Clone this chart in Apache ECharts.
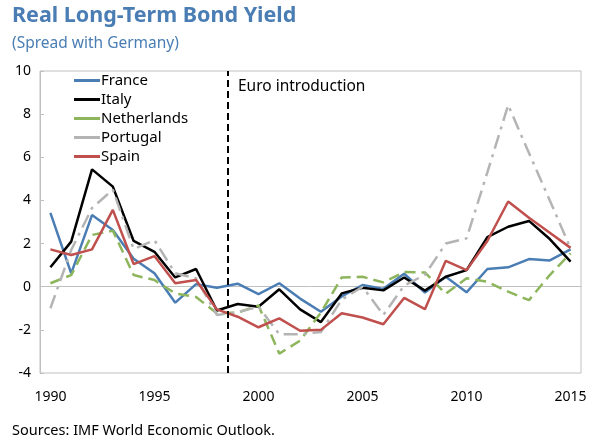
<!DOCTYPE html>
<html>
<head>
<meta charset="utf-8">
<title>Real Long-Term Bond Yield</title>
<script src="https://cdn.jsdelivr.net/npm/echarts@6/dist/echarts.min.js"></script>
<style>
  html, body { margin: 0; padding: 0; background: #fff; }
  #main { width: 594px; height: 441px; }
</style>
</head>
<body>
<div id="main"></div>
<script type="text/javascript">
    // data, spread with Germany in percentage points
    var years = ['1990','1991','1992','1993','1994','1995','1996','1997','1998','1999',
                 '2000','2001','2002','2003','2004','2005','2006','2007','2008','2009',
                 '2010','2011','2012','2013','2014','2015'];
    var france = [3.42, 0.62, 3.32, 2.63, 1.30, 0.62, -0.74, 0.12, -0.05, 0.14,
                  -0.34, 0.16, -0.55, -1.16, -0.45, 0.08, -0.10, 0.60, -0.27, 0.46,
                  -0.26, 0.82, 0.90, 1.28, 1.22, 1.73];
    var italy = [0.90, 2.09, 5.44, 4.64, 2.12, 1.62, 0.43, 0.82, -1.10, -0.80,
                 -0.93, -0.12, -1.05, -1.64, -0.31, -0.05, -0.17, 0.43, -0.18, 0.46,
                 0.77, 2.30, 2.78, 3.05, 2.21, 1.16];
    var netherlands = [0.16, 0.54, 2.40, 2.60, 0.54, 0.31, -0.31, -0.48, -1.23, -1.20,
                       -0.87, -3.10, -2.50, -1.20, 0.43, 0.46, 0.20, 0.68, 0.66, -0.33,
                       0.39, 0.23, -0.23, -0.62, 0.54, 1.55];
    var portugal = [-1.00, 1.70, 3.65, 4.50, 1.75, 2.16, 0.62, 0.39, -1.31, -1.18,
                    -0.93, -2.20, -2.20, -2.10, -0.60, 0.00, -1.31, 0.05, 0.55, 2.00,
                    2.24, 5.30, 8.42, 6.20, 4.00, 1.78];
    var spain = [1.73, 1.47, 1.73, 3.56, 1.05, 1.42, 0.16, 0.31, -1.05, -1.39,
                 -1.88, -1.47, -2.04, -2.00, -1.23, -1.43, -1.74, -0.52, -1.04, 1.20,
                 0.77, 2.12, 3.95, 3.20, 2.50, 1.80];
    var euroBoundary = 9; // between 1998 and 1999 (year slots counted from 1990)

    var font = 'Noto Sans';
    var chart = echarts.init(document.getElementById('main'));

    function lineSeries(name, data, color, dash) {
        return {
            name: name,
            type: 'line',
            xAxisIndex: 0,
            yAxisIndex: 0,
            data: data,
            symbol: 'none',
            smooth: false,
            lineStyle: { color: color, width: 2.5, type: dash || 'solid' },
            itemStyle: { color: color },
            z: 3
        };
    }

    var option = {
        animation: false,
        title: {
            text: 'Real Long-Term Bond Yield',
            subtext: '(Spread with Germany)',
            left: 12,
            top: 5,
            padding: 0,
            itemGap: 9,
            textStyle: { fontFamily: font, fontSize: 21.5, fontWeight: 'bold', color: '#4a7db3' },
            subtextStyle: { fontFamily: font, fontSize: 15.5, color: '#4a7db3' }
        },
        legend: {
            orient: 'vertical',
            left: 74,
            top: 71,
            padding: 0,
            itemWidth: 26,
            itemHeight: 3,
            itemGap: 0,
            icon: 'rect',
            data: ['France', 'Italy', 'Netherlands', 'Portugal', 'Spain'],
            textStyle: { fontFamily: font, fontSize: 15, color: '#000', lineHeight: 19, padding: [0, 0, 0, -4] }
        },
        grid: {
            left: 40,
            right: 13,
            top: 71,
            bottom: 68,
            show: true,
            borderColor: '#c0c0c0',
            borderWidth: 1
        },
        xAxis: [
            {
                // zero line with the year ticks
                type: 'category',
                data: years,
                boundaryGap: true,
                position: 'bottom',
                axisLine: { onZero: true, lineStyle: { color: '#c0c0c0', width: 1 } },
                axisTick: { inside: true, length: 5, interval: 0, lineStyle: { color: '#c0c0c0' } },
                axisLabel: { show: false },
                splitLine: { show: false }
            },
            {
                // year labels along the bottom
                type: 'category',
                data: years,
                boundaryGap: true,
                position: 'bottom',
                axisLine: { show: false, onZero: false },
                axisTick: { show: false },
                axisLabel: { interval: 4, margin: 17, fontFamily: font, fontSize: 14, color: '#000' },
                splitLine: { show: false }
            },
            {
                // plain slot scale for the euro marker
                type: 'value',
                min: 0,
                max: years.length,
                show: false,
                position: 'bottom'
            }
        ],
        yAxis: {
            type: 'value',
            min: -4,
            max: 10,
            interval: 2,
            axisLine: { show: true, lineStyle: { color: '#c0c0c0' } },
            axisTick: { show: true, inside: true, length: 4, lineStyle: { color: '#c0c0c0' } },
            axisLabel: { margin: 9, fontFamily: font, fontSize: 14, color: '#000' },
            splitLine: { show: false }
        },
        series: [
            lineSeries('France', france, '#4a7db3'),
            lineSeries('Italy', italy, '#000000'),
            lineSeries('Netherlands', netherlands, '#8cb55c', [11, 6]),
            lineSeries('Portugal', portugal, '#b4b4b4', [14, 6, 3, 6]),
            lineSeries('Spain', spain, '#c0504d'),
            {
                name: 'euro',
                type: 'line',
                xAxisIndex: 2,
                yAxisIndex: 0,
                data: [],
                markLine: {
                    silent: true,
                    symbol: ['none', 'none'],
                    label: { show: false },
                    lineStyle: { color: '#000', width: 2, type: [7, 4] },
                    data: [{ xAxis: euroBoundary }]
                }
            }
        ],
        graphic: [
            {
                type: 'text',
                left: 238,
                top: 79,
                style: { text: 'Euro introduction', font: '15.5px "Noto Sans"', fill: '#000' }
            },
            {
                type: 'text',
                left: 12,
                top: 423,
                style: { text: 'Sources: IMF World Economic Outlook.', font: '14.5px "Noto Sans"', fill: '#000' }
            }
        ]
    };

    chart.setOption(option);
</script>
</body>
</html>
